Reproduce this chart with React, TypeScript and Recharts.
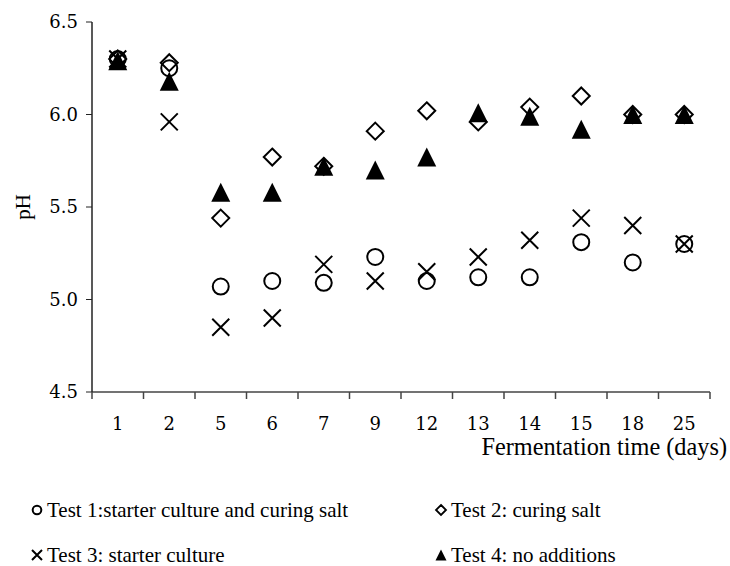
import React from "react";
import { ComposedChart, Scatter, XAxis, YAxis } from "recharts";

const days = ["1", "2", "5", "6", "7", "9", "12", "13", "14", "15", "18", "25"];
const test1 = [6.3, 6.25, 5.07, 5.1, 5.09, 5.23, 5.1, 5.12, 5.12, 5.31, 5.2, 5.3];
const test2 = [6.3, 6.28, 5.44, 5.77, 5.72, 5.91, 6.02, 5.96, 6.04, 6.1, 6.0, 6.0];
const test3 = [6.3, 5.96, 4.85, 4.9, 5.19, 5.1, 5.15, 5.23, 5.32, 5.44, 5.4, 5.3];
const test4 = [6.29, 6.18, 5.58, 5.58, 5.72, 5.7, 5.77, 6.01, 5.99, 5.92, 6.0, 6.0];
const yTicks = [4.5, 5.0, 5.5, 6.0, 6.5];

const rows = days.map((day, i) => ({
  day,
  t1: test1[i],
  t2: test2[i],
  t3: test3[i],
  t4: test4[i],
}));

const W = 722;
const H = 470;
const M = { top: 14, right: 20, left: 0, bottom: 16 };
const Y_W = 84;
const PLOT_W = W - M.left - M.right - Y_W;
const PLOT_BOTTOM = H - M.bottom - 70;
const HALF_BAND = PLOT_W / days.length / 2;

const tickFont = "'DejaVu Serif', serif";
const textFont = "'Liberation Serif', 'Times New Roman', serif";

const CircleMark = ({ cx, cy, r = 8, sw = 2 }: any) => (
  <circle cx={cx} cy={cy} r={r} fill="none" stroke="#000" strokeWidth={sw} />
);
const DiamondMark = ({ cx, cy, s = 8.5, sw = 2 }: any) => (
  <path
    d={`M${cx},${cy - s}L${cx + s},${cy}L${cx},${cy + s}L${cx - s},${cy}Z`}
    fill="none"
    stroke="#000"
    strokeWidth={sw}
  />
);
const CrossMark = ({ cx, cy, s = 8.5, sw = 2 }: any) => (
  <path
    d={`M${cx - s},${cy - s}L${cx + s},${cy + s}M${cx - s},${cy + s}L${cx + s},${cy - s}`}
    stroke="#000"
    strokeWidth={sw}
  />
);
const TriangleMark = ({ cx, cy, s = 9.5 }: any) => (
  <path d={`M${cx},${cy - s}L${cx + s},${cy + s}L${cx - s},${cy + s}Z`} fill="#000" />
);

// category labels centred, tick marks on the band edges
const DayTick = (props: any) => {
  const { x, payload, index } = props;
  const top = PLOT_BOTTOM;
  return (
    <g>
      <line x1={x - HALF_BAND} x2={x - HALF_BAND} y1={top} y2={top + 7} stroke="#444" strokeWidth={1.5} />
      {index === days.length - 1 && (
        <line x1={x + HALF_BAND} x2={x + HALF_BAND} y1={top} y2={top + 7} stroke="#444" strokeWidth={1.5} />
      )}
      <text x={x} y={top + 25} dy="0.71em" textAnchor="middle" fontFamily={tickFont} fontSize={18} fill="#000">
        {payload.value}
      </text>
    </g>
  );
};

const XTitle = () => (
  <text x={W - 3} y={PLOT_BOTTOM + 63} textAnchor="end" fontFamily={textFont} fontSize={24.3} fill="#000">
    Fermentation time (days)
  </text>
);

const YTitle = () => (
  <text
    x={0}
    y={0}
    transform={`translate(22, ${M.top + (PLOT_BOTTOM - M.top) / 2}) rotate(-90)`}
    textAnchor="middle"
    fontFamily={textFont}
    fontSize={21}
    fill="#000"
  >
    pH
  </text>
);

const legendItems = [
  { label: "Test 1:starter culture and curing salt", mark: "circle", left: 20, top: 493 },
  { label: "Test 2: curing salt", mark: "diamond", left: 424, top: 493 },
  { label: "Test 3: starter culture", mark: "cross", left: 20, top: 538 },
  { label: "Test 4: no additions", mark: "triangle", left: 424, top: 538 },
];

const LegendIcon = ({ mark }: { mark: string }) => (
  <svg width={18} height={18} style={{ display: "block" }}>
    {mark === "circle" && <CircleMark cx={9} cy={9} r={4.3} sw={2} />}
    {mark === "diamond" && <DiamondMark cx={9} cy={9} s={5} sw={1.8} />}
    {mark === "cross" && <CrossMark cx={9} cy={9} s={5} sw={2} />}
    {mark === "triangle" && <TriangleMark cx={9} cy={9} s={5.5} />}
  </svg>
);

export default function App() {
  return (
    <div style={{ position: "absolute", left: 8, top: 8, width: W, height: 558, overflow: "hidden" }}>
      <ComposedChart width={W} height={H} data={rows} margin={M}>
        <XAxis
          xAxisId="top"
          orientation="top"
          dataKey="day"
          height={0}
          tick={false}
          tickLine={false}
          axisLine={{ stroke: "#808080", strokeWidth: 1.5 }}
        />
        <YAxis
          yAxisId="right"
          orientation="right"
          width={0}
          domain={[4.5, 6.5]}
          ticks={yTicks}
          tick={false}
          tickLine={false}
          axisLine={{ stroke: "#808080", strokeWidth: 1.5 }}
        />
        <XAxis
          dataKey="day"
          scale="point"
          padding={{ left: HALF_BAND, right: HALF_BAND }}
          height={70}
          tickLine={false}
          interval={0}
          axisLine={{ stroke: "#444", strokeWidth: 1.5 }}
          tick={<DayTick />}
          label={<XTitle />}
        />
        <YAxis
          width={Y_W}
          domain={[4.5, 6.5]}
          ticks={yTicks}
          tickFormatter={(v: number) => v.toFixed(1)}
          tickSize={6}
          tickMargin={8}
          axisLine={{ stroke: "#222", strokeWidth: 1.5 }}
          tickLine={{ stroke: "#222" }}
          tick={{ fill: "#000", fontSize: 18, fontFamily: tickFont }}
          label={<YTitle />}
        />
        <Scatter dataKey="t1" name="Test 1" shape={<CircleMark />} isAnimationActive={false} />
        <Scatter dataKey="t2" name="Test 2" shape={<DiamondMark />} isAnimationActive={false} />
        <Scatter dataKey="t3" name="Test 3" shape={<CrossMark />} isAnimationActive={false} />
        <Scatter dataKey="t4" name="Test 4" shape={<TriangleMark />} isAnimationActive={false} />
      </ComposedChart>
      {legendItems.map((item) => (
        <div
          key={item.label}
          style={{
            position: "absolute",
            left: item.left,
            top: item.top,
            display: "flex",
            alignItems: "center",
            fontFamily: textFont,
            fontSize: 21,
            lineHeight: "18px",
            whiteSpace: "nowrap",
            color: "#000",
          }}
        >
          <LegendIcon mark={item.mark} />
          <span style={{ marginLeft: 1 }}>{item.label}</span>
        </div>
      ))}
    </div>
  );
}
